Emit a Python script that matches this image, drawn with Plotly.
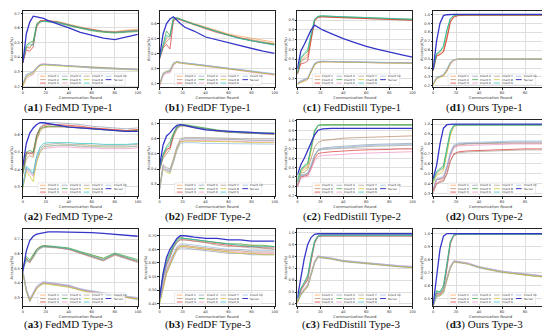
import plotly.graph_objects as go

# ---------------- data ----------------
R = [0, 3, 6, 9, 12, 15, 18, 22, 30, 40, 50, 60, 70, 80, 90, 100]
X_TICKS = [0, 20, 40, 60, 80, 100]
NAMES = ["Client 1", "Client 2", "Client 3", "Client 4", "Client 5", "Client 6",
         "Client 7", "Client 8", "Client 9", "Client 10", "Server"]

A1 = {
    "Client 1": [0.37,0.46,0.47,0.49,0.60,0.645,0.65,0.65,0.645,0.625,0.605,0.59,0.58,0.575,0.585,0.59],
    "Client 2": [0.37,0.47,0.46,0.50,0.61,0.64,0.645,0.645,0.64,0.62,0.60,0.585,0.575,0.57,0.58,0.585],
    "Client 3": [0.36,0.45,0.44,0.47,0.62,0.65,0.65,0.65,0.64,0.62,0.60,0.59,0.575,0.57,0.575,0.58],
    "Client 4": [0.21,0.27,0.28,0.29,0.32,0.345,0.35,0.35,0.345,0.34,0.335,0.33,0.325,0.32,0.32,0.315],
    "Client 5": [0.37,0.48,0.50,0.51,0.63,0.645,0.645,0.64,0.635,0.615,0.595,0.58,0.57,0.565,0.57,0.575],
    "Client 6": [0.20,0.25,0.27,0.28,0.33,0.35,0.355,0.35,0.345,0.34,0.33,0.325,0.325,0.32,0.315,0.315],
    "Client 7": [0.21,0.28,0.29,0.30,0.33,0.345,0.35,0.35,0.345,0.34,0.335,0.33,0.325,0.32,0.32,0.32],
    "Client 8": [0.20,0.26,0.28,0.29,0.32,0.34,0.345,0.345,0.34,0.335,0.33,0.325,0.32,0.32,0.315,0.31],
    "Client 9": [0.37,0.47,0.49,0.48,0.62,0.64,0.645,0.645,0.64,0.62,0.60,0.585,0.575,0.57,0.575,0.58],
    "Client 10": [0.22,0.28,0.29,0.30,0.33,0.35,0.35,0.35,0.345,0.34,0.33,0.325,0.32,0.32,0.315,0.315],
    "Server": [0.36,0.56,0.64,0.68,0.675,0.67,0.665,0.65,0.63,0.60,0.57,0.55,0.53,0.52,0.54,0.555],
}
B1 = {
    "Client 1": [0.37,0.44,0.50,0.52,0.63,0.635,0.63,0.62,0.60,0.575,0.55,0.53,0.515,0.50,0.485,0.475],
    "Client 2": [0.37,0.45,0.48,0.50,0.62,0.63,0.625,0.615,0.595,0.57,0.545,0.525,0.505,0.49,0.475,0.465],
    "Client 3": [0.36,0.44,0.46,0.43,0.62,0.635,0.625,0.615,0.59,0.565,0.54,0.52,0.50,0.485,0.47,0.46],
    "Client 4": [0.19,0.26,0.27,0.28,0.33,0.345,0.34,0.335,0.33,0.32,0.31,0.30,0.29,0.28,0.27,0.26],
    "Client 5": [0.37,0.46,0.55,0.52,0.64,0.64,0.63,0.62,0.595,0.57,0.545,0.52,0.50,0.485,0.47,0.46],
    "Client 6": [0.18,0.25,0.27,0.27,0.32,0.34,0.335,0.33,0.325,0.315,0.305,0.295,0.285,0.275,0.265,0.255],
    "Client 7": [0.19,0.26,0.28,0.28,0.33,0.345,0.34,0.335,0.325,0.32,0.31,0.30,0.29,0.28,0.27,0.26],
    "Client 8": [0.19,0.27,0.28,0.29,0.33,0.34,0.335,0.33,0.325,0.315,0.305,0.295,0.285,0.275,0.265,0.26],
    "Client 9": [0.37,0.45,0.52,0.51,0.63,0.635,0.63,0.615,0.595,0.565,0.54,0.52,0.50,0.485,0.47,0.455],
    "Client 10": [0.20,0.27,0.28,0.29,0.34,0.345,0.34,0.335,0.33,0.32,0.31,0.30,0.29,0.28,0.27,0.265],
    "Server": [0.38,0.53,0.60,0.63,0.645,0.62,0.60,0.575,0.55,0.51,0.49,0.47,0.45,0.43,0.415,0.40],
}
C1 = {
    "Client 1": [0.35,0.48,0.52,0.55,0.72,0.90,0.935,0.94,0.935,0.93,0.925,0.92,0.915,0.91,0.91,0.905],
    "Client 2": [0.35,0.47,0.50,0.52,0.70,0.89,0.93,0.935,0.93,0.925,0.92,0.915,0.91,0.905,0.905,0.90],
    "Client 3": [0.34,0.45,0.46,0.48,0.70,0.90,0.93,0.935,0.93,0.925,0.92,0.915,0.91,0.905,0.90,0.90],
    "Client 4": [0.25,0.27,0.28,0.30,0.38,0.45,0.47,0.475,0.475,0.47,0.47,0.47,0.465,0.465,0.465,0.46],
    "Client 5": [0.36,0.50,0.55,0.58,0.75,0.91,0.94,0.945,0.94,0.935,0.93,0.925,0.92,0.915,0.915,0.91],
    "Client 6": [0.24,0.26,0.28,0.29,0.36,0.44,0.465,0.47,0.47,0.47,0.465,0.465,0.46,0.46,0.46,0.46],
    "Client 7": [0.25,0.27,0.29,0.30,0.38,0.45,0.47,0.475,0.475,0.47,0.47,0.465,0.465,0.46,0.46,0.46],
    "Client 8": [0.24,0.26,0.27,0.29,0.37,0.44,0.465,0.47,0.47,0.47,0.465,0.465,0.46,0.46,0.46,0.455],
    "Client 9": [0.35,0.52,0.56,0.60,0.76,0.91,0.94,0.945,0.94,0.935,0.93,0.925,0.92,0.915,0.915,0.91],
    "Client 10": [0.25,0.28,0.29,0.31,0.39,0.46,0.475,0.48,0.475,0.475,0.47,0.47,0.465,0.465,0.465,0.46],
    "Server": [0.40,0.58,0.65,0.72,0.80,0.85,0.83,0.80,0.76,0.71,0.67,0.63,0.60,0.57,0.545,0.52],
}
D1 = {
    "Client 1": [0.38,0.55,0.56,0.60,0.76,0.93,0.98,0.99,0.99,0.99,0.99,0.99,0.99,0.99,0.99,0.99],
    "Client 2": [0.37,0.54,0.55,0.58,0.74,0.92,0.975,0.99,0.99,0.99,0.99,0.99,0.99,0.99,0.99,0.99],
    "Client 3": [0.37,0.53,0.55,0.58,0.72,0.91,0.97,0.985,0.99,0.99,0.99,0.99,0.99,0.99,0.99,0.99],
    "Client 4": [0.22,0.29,0.31,0.32,0.37,0.45,0.49,0.50,0.50,0.50,0.50,0.50,0.50,0.50,0.50,0.50],
    "Client 5": [0.38,0.56,0.58,0.64,0.82,0.95,0.985,0.995,0.995,0.995,0.995,0.995,0.995,0.995,0.995,0.995],
    "Client 6": [0.21,0.28,0.30,0.31,0.36,0.44,0.485,0.50,0.50,0.50,0.50,0.50,0.50,0.50,0.50,0.50],
    "Client 7": [0.22,0.29,0.30,0.32,0.38,0.46,0.49,0.50,0.50,0.50,0.50,0.50,0.50,0.50,0.50,0.50],
    "Client 8": [0.21,0.28,0.30,0.31,0.37,0.45,0.49,0.50,0.50,0.50,0.50,0.50,0.50,0.50,0.50,0.50],
    "Client 9": [0.38,0.56,0.59,0.65,0.83,0.955,0.99,0.995,0.995,0.995,0.995,0.995,0.995,0.995,0.995,0.995],
    "Client 10": [0.23,0.30,0.31,0.33,0.39,0.47,0.495,0.50,0.50,0.50,0.50,0.50,0.50,0.50,0.50,0.50],
    "Server": [0.38,0.70,0.90,0.985,0.995,1.0,1.0,1.0,1.0,1.0,1.0,1.0,1.0,1.0,1.0,1.0],
}
A2 = {
    "Client 1": [0.38,0.48,0.50,0.48,0.58,0.63,0.645,0.65,0.65,0.65,0.645,0.64,0.635,0.63,0.625,0.63],
    "Client 2": [0.37,0.46,0.48,0.47,0.57,0.62,0.64,0.645,0.645,0.645,0.64,0.635,0.63,0.625,0.62,0.625],
    "Client 3": [0.39,0.50,0.49,0.50,0.60,0.64,0.655,0.66,0.66,0.655,0.65,0.64,0.635,0.63,0.625,0.63],
    "Client 4": [0.38,0.49,0.50,0.49,0.60,0.645,0.66,0.67,0.67,0.665,0.66,0.65,0.645,0.64,0.635,0.64],
    "Client 5": [0.38,0.50,0.51,0.50,0.59,0.635,0.645,0.65,0.65,0.645,0.64,0.635,0.63,0.625,0.62,0.625],
    "Client 6": [0.30,0.40,0.38,0.36,0.45,0.50,0.52,0.525,0.53,0.53,0.525,0.525,0.52,0.52,0.52,0.525],
    "Client 7": [0.31,0.41,0.39,0.37,0.47,0.52,0.54,0.545,0.55,0.545,0.545,0.54,0.54,0.54,0.54,0.545],
    "Client 8": [0.29,0.39,0.36,0.33,0.44,0.50,0.53,0.535,0.54,0.54,0.535,0.535,0.53,0.53,0.53,0.535],
    "Client 9": [0.30,0.42,0.40,0.38,0.48,0.53,0.55,0.555,0.555,0.555,0.55,0.55,0.545,0.545,0.545,0.55],
    "Client 10": [0.31,0.41,0.39,0.37,0.46,0.51,0.53,0.535,0.54,0.54,0.535,0.53,0.53,0.53,0.53,0.535],
    "Server": [0.42,0.55,0.61,0.64,0.66,0.67,0.67,0.665,0.655,0.645,0.64,0.635,0.63,0.625,0.62,0.62],
}
B2 = {
    "Client 1": [0.40,0.48,0.52,0.55,0.62,0.67,0.69,0.69,0.68,0.665,0.655,0.645,0.64,0.64,0.635,0.635],
    "Client 2": [0.39,0.47,0.50,0.53,0.61,0.665,0.685,0.685,0.675,0.66,0.65,0.645,0.64,0.635,0.635,0.63],
    "Client 3": [0.40,0.49,0.53,0.54,0.63,0.675,0.69,0.69,0.68,0.665,0.655,0.645,0.64,0.64,0.635,0.635],
    "Client 4": [0.27,0.42,0.40,0.39,0.46,0.54,0.59,0.60,0.60,0.60,0.595,0.595,0.595,0.59,0.59,0.59],
    "Client 5": [0.41,0.50,0.55,0.58,0.64,0.68,0.695,0.695,0.685,0.67,0.66,0.65,0.645,0.64,0.64,0.64],
    "Client 6": [0.26,0.41,0.39,0.38,0.45,0.53,0.58,0.59,0.59,0.59,0.585,0.585,0.585,0.58,0.58,0.58],
    "Client 7": [0.28,0.43,0.41,0.40,0.47,0.55,0.60,0.61,0.61,0.61,0.605,0.605,0.60,0.60,0.60,0.60],
    "Client 8": [0.27,0.40,0.38,0.37,0.45,0.53,0.58,0.585,0.585,0.585,0.58,0.58,0.58,0.575,0.575,0.575],
    "Client 9": [0.40,0.49,0.54,0.56,0.63,0.675,0.69,0.69,0.68,0.665,0.655,0.645,0.64,0.64,0.635,0.635],
    "Client 10": [0.26,0.40,0.39,0.38,0.44,0.52,0.57,0.575,0.575,0.57,0.57,0.57,0.565,0.565,0.565,0.565],
    "Server": [0.42,0.56,0.62,0.64,0.67,0.69,0.695,0.69,0.675,0.66,0.655,0.65,0.645,0.64,0.635,0.635],
}
C2 = {
    "Client 1": [0.35,0.46,0.50,0.52,0.70,0.88,0.95,0.96,0.96,0.96,0.96,0.96,0.96,0.96,0.96,0.96],
    "Client 2": [0.30,0.44,0.45,0.48,0.60,0.72,0.77,0.79,0.80,0.815,0.82,0.825,0.83,0.835,0.84,0.84],
    "Client 3": [0.30,0.40,0.41,0.42,0.50,0.60,0.65,0.66,0.67,0.68,0.685,0.69,0.69,0.695,0.70,0.70],
    "Client 4": [0.32,0.42,0.43,0.44,0.52,0.63,0.69,0.71,0.72,0.73,0.74,0.745,0.75,0.755,0.76,0.76],
    "Client 5": [0.36,0.48,0.52,0.55,0.72,0.90,0.955,0.96,0.96,0.96,0.96,0.96,0.96,0.96,0.96,0.96],
    "Client 6": [0.29,0.38,0.40,0.40,0.48,0.57,0.62,0.63,0.635,0.645,0.65,0.655,0.66,0.665,0.67,0.67],
    "Client 7": [0.31,0.41,0.42,0.43,0.51,0.62,0.68,0.695,0.70,0.71,0.72,0.725,0.73,0.735,0.74,0.74],
    "Client 8": [0.34,0.45,0.48,0.50,0.68,0.88,0.95,0.955,0.955,0.955,0.955,0.955,0.955,0.955,0.955,0.955],
    "Client 9": [0.35,0.47,0.51,0.54,0.71,0.89,0.95,0.955,0.955,0.955,0.955,0.955,0.955,0.955,0.955,0.955],
    "Client 10": [0.33,0.42,0.42,0.44,0.53,0.64,0.69,0.70,0.71,0.72,0.73,0.735,0.74,0.745,0.75,0.75],
    "Server": [0.42,0.53,0.60,0.68,0.76,0.85,0.90,0.915,0.92,0.92,0.92,0.92,0.92,0.92,0.92,0.92],
}
D2 = {
    "Client 1": [0.42,0.50,0.53,0.55,0.72,0.90,0.98,0.99,0.99,0.99,0.99,0.99,0.99,0.99,0.99,0.99],
    "Client 2": [0.33,0.44,0.44,0.45,0.55,0.69,0.77,0.79,0.80,0.805,0.81,0.81,0.81,0.81,0.81,0.81],
    "Client 3": [0.32,0.40,0.42,0.43,0.50,0.63,0.70,0.72,0.73,0.735,0.74,0.745,0.745,0.75,0.75,0.75],
    "Client 4": [0.34,0.44,0.45,0.46,0.56,0.70,0.78,0.80,0.805,0.81,0.815,0.82,0.82,0.82,0.82,0.82],
    "Client 5": [0.43,0.52,0.55,0.58,0.76,0.93,0.99,0.995,0.995,0.995,0.995,0.995,0.995,0.995,0.995,0.995],
    "Client 6": [0.34,0.43,0.45,0.46,0.55,0.68,0.76,0.78,0.785,0.79,0.795,0.80,0.80,0.80,0.80,0.80],
    "Client 7": [0.30,0.39,0.41,0.42,0.49,0.62,0.69,0.71,0.72,0.725,0.73,0.735,0.735,0.74,0.74,0.74],
    "Client 8": [0.40,0.48,0.50,0.53,0.70,0.89,0.98,0.99,0.99,0.99,0.99,0.99,0.99,0.99,0.99,0.99],
    "Client 9": [0.42,0.51,0.54,0.56,0.74,0.92,0.985,0.99,0.99,0.99,0.99,0.99,0.99,0.99,0.99,0.99],
    "Client 10": [0.35,0.45,0.46,0.47,0.58,0.72,0.79,0.81,0.815,0.82,0.825,0.83,0.83,0.83,0.83,0.83],
    "Server": [0.45,0.58,0.80,0.96,0.995,1.0,1.0,1.0,1.0,1.0,1.0,1.0,1.0,1.0,1.0,1.0],
}
A3 = {
    "Client 1": [0.50,0.56,0.55,0.58,0.62,0.64,0.65,0.65,0.645,0.635,0.61,0.585,0.565,0.60,0.575,0.55],
    "Client 2": [0.48,0.35,0.28,0.33,0.37,0.39,0.40,0.40,0.39,0.38,0.355,0.34,0.325,0.315,0.305,0.29],
    "Client 3": [0.51,0.57,0.54,0.59,0.63,0.645,0.655,0.65,0.64,0.63,0.605,0.58,0.555,0.595,0.57,0.545],
    "Client 4": [0.47,0.34,0.27,0.32,0.36,0.385,0.395,0.395,0.385,0.375,0.35,0.335,0.32,0.31,0.30,0.285],
    "Client 5": [0.50,0.58,0.56,0.60,0.63,0.65,0.655,0.655,0.65,0.64,0.615,0.59,0.57,0.605,0.58,0.56],
    "Client 6": [0.48,0.36,0.29,0.33,0.37,0.39,0.405,0.40,0.39,0.38,0.36,0.34,0.33,0.32,0.31,0.295],
    "Client 7": [0.49,0.55,0.54,0.57,0.61,0.635,0.645,0.645,0.64,0.63,0.60,0.575,0.55,0.59,0.565,0.54],
    "Client 8": [0.47,0.35,0.28,0.32,0.36,0.38,0.395,0.39,0.38,0.37,0.35,0.33,0.32,0.31,0.30,0.29],
    "Client 9": [0.50,0.56,0.55,0.58,0.62,0.64,0.65,0.65,0.645,0.635,0.61,0.585,0.56,0.60,0.575,0.55],
    "Client 10": [0.49,0.36,0.29,0.34,0.38,0.395,0.41,0.405,0.395,0.385,0.36,0.345,0.33,0.32,0.31,0.30],
    "Server": [0.48,0.62,0.69,0.72,0.735,0.74,0.745,0.75,0.75,0.75,0.745,0.745,0.74,0.735,0.73,0.72],
}
B3 = {
    "Client 1": [0.47,0.55,0.60,0.63,0.66,0.68,0.69,0.69,0.685,0.68,0.675,0.67,0.665,0.665,0.66,0.66],
    "Client 2": [0.46,0.52,0.57,0.60,0.63,0.655,0.665,0.665,0.66,0.655,0.65,0.645,0.645,0.64,0.64,0.64],
    "Client 3": [0.46,0.54,0.59,0.62,0.655,0.675,0.685,0.685,0.68,0.675,0.67,0.665,0.66,0.66,0.655,0.655],
    "Client 4": [0.45,0.51,0.56,0.59,0.62,0.645,0.655,0.655,0.65,0.645,0.64,0.635,0.635,0.63,0.63,0.63],
    "Client 5": [0.47,0.56,0.61,0.64,0.665,0.685,0.695,0.69,0.685,0.68,0.675,0.67,0.67,0.665,0.665,0.66],
    "Client 6": [0.46,0.52,0.57,0.60,0.63,0.65,0.66,0.66,0.655,0.65,0.645,0.64,0.64,0.635,0.635,0.635],
    "Client 7": [0.46,0.55,0.60,0.62,0.655,0.675,0.685,0.685,0.68,0.675,0.665,0.66,0.66,0.655,0.655,0.65],
    "Client 8": [0.45,0.51,0.56,0.59,0.625,0.65,0.66,0.66,0.655,0.65,0.645,0.64,0.635,0.635,0.63,0.63],
    "Client 9": [0.47,0.55,0.60,0.63,0.66,0.68,0.69,0.69,0.685,0.68,0.675,0.67,0.665,0.66,0.66,0.66],
    "Client 10": [0.46,0.53,0.58,0.61,0.635,0.66,0.67,0.67,0.665,0.66,0.655,0.65,0.65,0.645,0.645,0.645],
    "Server": [0.47,0.56,0.62,0.65,0.67,0.69,0.70,0.70,0.695,0.69,0.69,0.685,0.685,0.68,0.68,0.68],
}
C3 = {
    "Client 1": [0.42,0.52,0.57,0.62,0.78,0.92,0.97,0.975,0.975,0.975,0.975,0.975,0.975,0.975,0.975,0.975],
    "Client 2": [0.42,0.48,0.52,0.55,0.65,0.75,0.80,0.79,0.78,0.76,0.75,0.74,0.73,0.72,0.715,0.71],
    "Client 3": [0.41,0.51,0.56,0.60,0.76,0.91,0.965,0.97,0.97,0.97,0.97,0.97,0.97,0.97,0.97,0.97],
    "Client 4": [0.41,0.47,0.51,0.54,0.64,0.74,0.79,0.785,0.775,0.755,0.745,0.735,0.725,0.715,0.71,0.705],
    "Client 5": [0.43,0.53,0.58,0.64,0.80,0.93,0.975,0.98,0.98,0.98,0.98,0.98,0.98,0.98,0.98,0.98],
    "Client 6": [0.42,0.49,0.52,0.56,0.66,0.76,0.805,0.795,0.785,0.765,0.755,0.745,0.735,0.725,0.72,0.715],
    "Client 7": [0.42,0.52,0.56,0.61,0.77,0.91,0.965,0.97,0.97,0.97,0.97,0.97,0.97,0.97,0.97,0.97],
    "Client 8": [0.41,0.48,0.51,0.55,0.65,0.75,0.795,0.79,0.78,0.76,0.75,0.74,0.73,0.72,0.71,0.705],
    "Client 9": [0.43,0.53,0.58,0.63,0.79,0.925,0.97,0.975,0.975,0.975,0.975,0.975,0.975,0.975,0.975,0.975],
    "Client 10": [0.43,0.49,0.53,0.56,0.66,0.76,0.80,0.795,0.785,0.765,0.755,0.745,0.735,0.725,0.72,0.715],
    "Server": [0.45,0.62,0.78,0.90,0.96,0.985,0.99,0.99,0.99,0.99,0.99,0.99,0.99,0.99,0.99,0.99],
}
D3 = {
    "Client 1": [0.45,0.55,0.54,0.58,0.75,0.93,0.99,0.995,0.995,0.995,0.995,0.995,0.995,0.995,0.995,0.995],
    "Client 2": [0.45,0.52,0.53,0.55,0.65,0.74,0.785,0.78,0.77,0.74,0.72,0.705,0.695,0.685,0.675,0.665],
    "Client 3": [0.44,0.54,0.53,0.57,0.73,0.92,0.985,0.995,0.995,0.995,0.995,0.995,0.995,0.995,0.995,0.995],
    "Client 4": [0.44,0.51,0.52,0.54,0.64,0.73,0.78,0.775,0.765,0.735,0.715,0.70,0.69,0.68,0.67,0.66],
    "Client 5": [0.46,0.56,0.55,0.60,0.77,0.94,0.99,0.995,0.995,0.995,0.995,0.995,0.995,0.995,0.995,0.995],
    "Client 6": [0.45,0.53,0.53,0.56,0.66,0.75,0.79,0.785,0.775,0.745,0.725,0.71,0.70,0.69,0.68,0.67],
    "Client 7": [0.45,0.54,0.54,0.57,0.74,0.925,0.985,0.995,0.995,0.995,0.995,0.995,0.995,0.995,0.995,0.995],
    "Client 8": [0.44,0.52,0.52,0.55,0.64,0.74,0.78,0.78,0.765,0.74,0.72,0.705,0.69,0.68,0.67,0.665],
    "Client 9": [0.45,0.55,0.55,0.59,0.76,0.935,0.99,0.995,0.995,0.995,0.995,0.995,0.995,0.995,0.995,0.995],
    "Client 10": [0.45,0.52,0.54,0.56,0.66,0.745,0.79,0.785,0.77,0.745,0.725,0.71,0.70,0.69,0.68,0.67],
    "Server": [0.45,0.65,0.88,0.98,1.0,1.0,1.0,1.0,1.0,1.0,1.0,1.0,1.0,1.0,1.0,1.0],
}

# panel label, method caption, data, y range, y ticks, tick format
PANELS = [
    ("a1", "FedMD Type-1", A1, [0.193, 0.716], [0.2, 0.3, 0.4, 0.5, 0.6, 0.7], ".1f"),
    ("b1", "FedDF Type-1", B1, [0.174, 0.684], [0.2, 0.3, 0.4, 0.5, 0.6], ".1f"),
    ("c1", "FedDistill Type-1", C1, [0.21, 0.995], [0.3, 0.4, 0.5, 0.6, 0.7, 0.8, 0.9], ".1f"),
    ("d1", "Ours Type-1", D1, [0.185, 1.037], [0.2, 0.3, 0.4, 0.5, 0.6, 0.7, 0.8, 0.9, 1.0], ".1f"),
    ("a2", "FedMD Type-2", A2, [0.245, 0.686], [0.3, 0.4, 0.5, 0.6], ".1f"),
    ("b2", "FedDF Type-2", B2, [0.219, 0.726], [0.3, 0.4, 0.5, 0.6, 0.7], ".1f"),
    ("c2", "FedDistill Type-2", C2, [0.193, 1.01], [0.2, 0.3, 0.4, 0.5, 0.6, 0.7, 0.8, 0.9, 1.0], ".1f"),
    ("d2", "Ours Type-2", D2, [0.27, 1.043], [0.3, 0.4, 0.5, 0.6, 0.7, 0.8, 0.9, 1.0], ".1f"),
    ("a3", "FedMD Type-3", A3, [0.24, 0.77], [0.3, 0.4, 0.5, 0.6, 0.7], ".1f"),
    ("b3", "FedDF Type-3", B3, [0.44, 0.725], [0.45, 0.50, 0.55, 0.60, 0.65, 0.70], ".2f"),
    ("c3", "FedDistill Type-3", C3, [0.38, 1.03], [0.4, 0.5, 0.6, 0.7, 0.8, 0.9, 1.0], ".1f"),
    ("d3", "Ours Type-3", D3, [0.44, 1.035], [0.5, 0.6, 0.7, 0.8, 0.9, 1.0], ".1f"),
]

# ---------------- styling ----------------
COLORS = ["#ff9a4d", "#b5835a", "#e02a2a", "#8a9bb0", "#2ca02c", "#f08cc0",
          "#a89a8a", "#c8c020", "#20bfc0", "#8fb8e0", "#3535c8"]
W, H = 550, 330
COL_PX = [(14, 130), (152, 268), (291, 407), (428, 544)]
ROW_PX = [(2, 79), (112, 189), (222, 300)]
CAP_X = [60, 201, 346, 480]
CAP_Y = [99, 209, 318]

fig = go.Figure()
shapes, annos = [], []
layout = {}

for k, (lab, cap, data, yr, yt, yf) in enumerate(PANELS):
    r, c = divmod(k, 4)
    n = k + 1
    xs = "" if n == 1 else str(n)
    x0, x1 = COL_PX[c]
    y0, y1 = ROW_PX[r]
    layout["xaxis" + xs] = dict(
        domain=[x0 / W, x1 / W], range=[0, 100], anchor="y" + xs,
        tickvals=X_TICKS, tickfont=dict(size=3.6, color="#333"),
        showgrid=True, gridcolor="#dedede", gridwidth=0.5, zeroline=False,
        showline=True, linecolor="#222", linewidth=0.6, mirror=True,
        ticks="outside", ticklen=1.5, tickwidth=0.5, tickcolor="#222",
        title=dict(text="Communication Round", font=dict(size=3.8, color="#333"), standoff=0.5),
    )
    layout["yaxis" + xs] = dict(
        domain=[1 - y1 / H, 1 - y0 / H], range=yr, anchor="x" + xs,
        tickvals=yt, tickformat=yf, tickfont=dict(size=3.6, color="#333"),
        showgrid=True, gridcolor="#dedede", gridwidth=0.5, zeroline=False,
        showline=True, linecolor="#222", linewidth=0.6, mirror=True,
        ticks="outside", ticklen=1.5, tickwidth=0.5, tickcolor="#222",
        title=dict(text="Accuracy(%)", font=dict(size=3.8, color="#333"), standoff=0.5),
    )
    for i, name in enumerate(NAMES):
        server = name == "Server"
        fig.add_trace(go.Scatter(
            x=R, y=data[name], mode="lines", name=name, showlegend=False,
            xaxis="x" + xs, yaxis="y" + xs,
            line=dict(color=COLORS[i], width=1.3 if server else 0.8),
            opacity=1.0 if server else 0.85,
        ))
    # in-plot legend (drawn with shapes + text)
    xr, yrf = "x" + xs + " domain", "y" + xs + " domain"
    shapes.append(dict(type="rect", xref=xr, yref=yrf, x0=0.13, x1=0.89, y0=0.03, y1=0.175,
                       fillcolor="rgba(255,255,255,0.85)", line=dict(color="#cccccc", width=0.4)))
    for i, name in enumerate(NAMES):
        cc, rr = divmod(i, 3)
        lx = 0.15 + cc * 0.19
        ly = 0.145 - rr * 0.045
        shapes.append(dict(type="line", xref=xr, yref=yrf, x0=lx, x1=lx + 0.05, y0=ly, y1=ly,
                           line=dict(color=COLORS[i], width=1.0 if name == "Server" else 0.7)))
        annos.append(dict(xref=xr, yref=yrf, x=lx + 0.06, y=ly, text=name, showarrow=False,
                          xanchor="left", yanchor="middle", borderpad=0,
                          font=dict(size=2.8, color="#333")))
    annos.append(dict(xref="paper", yref="paper", x=CAP_X[c] / W, y=1 - CAP_Y[r] / H,
                      text="(<b>" + lab + "</b>) " + cap, showarrow=False,
                      xanchor="center", yanchor="middle", borderpad=0,
                      font=dict(family="Liberation Serif", size=11, color="#111")))

fig.update_layout(
    width=W, height=H, margin=dict(l=0, r=0, t=0, b=0),
    paper_bgcolor="white", plot_bgcolor="white", showlegend=False,
    font=dict(family="DejaVu Sans"), shapes=shapes, annotations=annos, **layout,
)
fig.write_html("out.html")
